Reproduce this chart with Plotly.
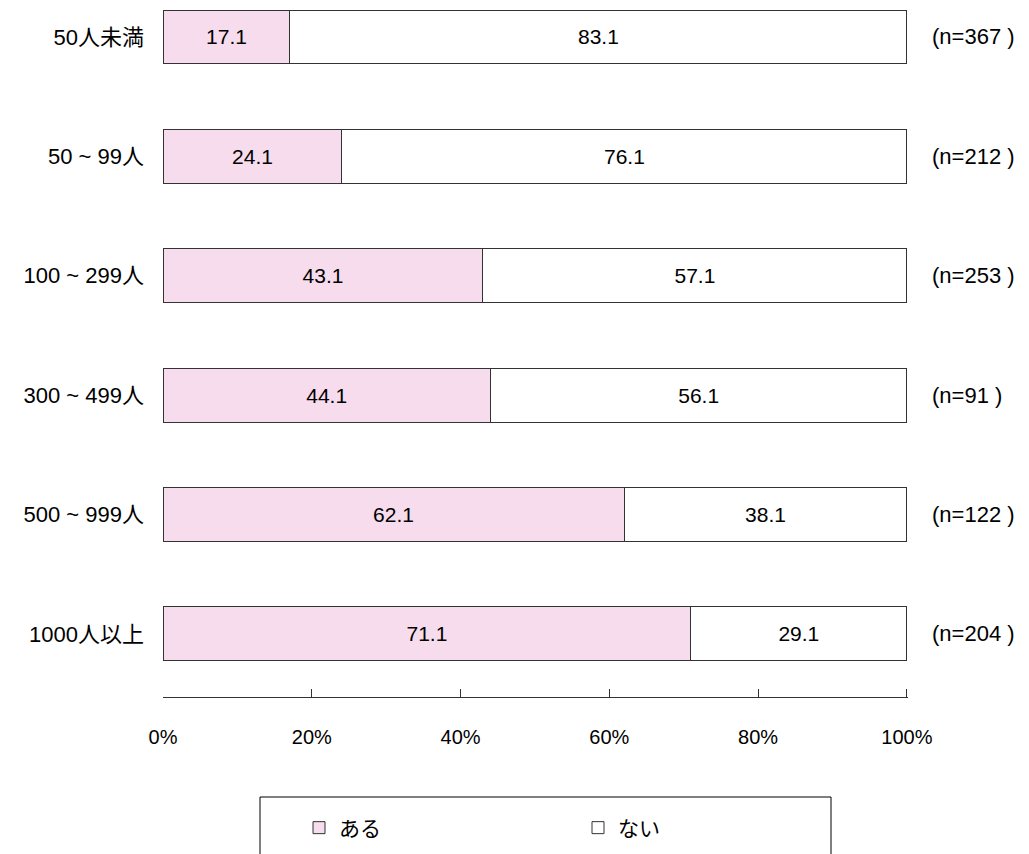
import plotly.graph_objects as go

categories = ["50人未満", "50 ~ 99人", "100 ~ 299人", "300 ~ 499人", "500 ~ 999人", "1000人以上"]
aru = [17.1, 24.1, 43.1, 44.1, 62.1, 71.1]
nai = [83.1, 76.1, 57.1, 56.1, 38.1, 29.1]
n_labels = ["(n=367 )", "(n=212 )", "(n=253 )", "(n=91 )", "(n=122 )", "(n=204 )"]
tick_vals = [0, 20, 40, 60, 80, 100]
tick_text = ["0%", "20%", "40%", "60%", "80%", "100%"]

font_family = "Liberation Sans, Arial, Noto Sans CJK JP"
line_col = "#333333"

# page body has an 8px margin, so everything is laid out 8px up/left
fig = go.Figure()
fig.add_trace(
    go.Bar(
        y=categories,
        x=aru,
        name="ある",
        orientation="h",
        marker=dict(color="#F6DCEC", line=dict(color=line_col, width=1)),
        text=[f"{v:.1f}" for v in aru],
        textposition="inside",
        insidetextanchor="middle",
        textfont=dict(size=21, color="black"),
        hoverinfo="skip",
    )
)
fig.add_trace(
    go.Bar(
        y=categories,
        x=nai,
        name="ない",
        orientation="h",
        marker=dict(color="white", line=dict(color=line_col, width=1)),
        text=[f"{v:.1f}" for v in nai],
        textposition="inside",
        insidetextanchor="middle",
        textfont=dict(size=21, color="black"),
        hoverinfo="skip",
    )
)

for cat, lab in zip(categories, n_labels):
    fig.add_annotation(
        x=1.0295, xref="paper", xanchor="left",
        y=cat, yref="y",
        text=lab, showarrow=False,
        font=dict(size=22, color="black"),
    )

# legend frame
fig.add_shape(
    type="rect", xref="paper", yref="paper",
    x0=(260 - 163) / 745, x1=(831 - 163) / 745,
    y0=-0.35, y1=-100 / 687,
    line=dict(color="black", width=1),
)

fig.update_xaxes(
    range=[0, 100.15],
    tickvals=tick_vals,
    ticktext=tick_text,
    ticks="inside",
    ticklen=8,
    tickcolor=line_col,
    showline=True,
    linecolor=line_col,
    linewidth=1,
    showgrid=False,
    zeroline=False,
    tickfont=dict(size=20, color="black"),
    ticklabelstandoff=22,
)
fig.update_yaxes(
    range=[5.528, -0.226],
    showgrid=False,
    showline=False,
    zeroline=False,
    ticks="",
    tickfont=dict(size=22, color="black"),
    ticklabelstandoff=18,
)
fig.update_layout(
    barmode="stack",
    barnorm="percent",
    bargap=0.548,
    width=1021,
    height=846,
    margin=dict(l=155, r=121, t=2, b=157),
    plot_bgcolor="white",
    paper_bgcolor="white",
    font=dict(family=font_family, size=20, color="black"),
    showlegend=True,
    legend=dict(
        orientation="h",
        x=(299 - 163) / 745,
        xanchor="left",
        y=-131 / 687,
        yanchor="middle",
        entrywidth=234,
        entrywidthmode="pixels",
        traceorder="normal",
        font=dict(size=21),
        bgcolor="rgba(0,0,0,0)",
    ),
)

fig.write_html("out.html")
